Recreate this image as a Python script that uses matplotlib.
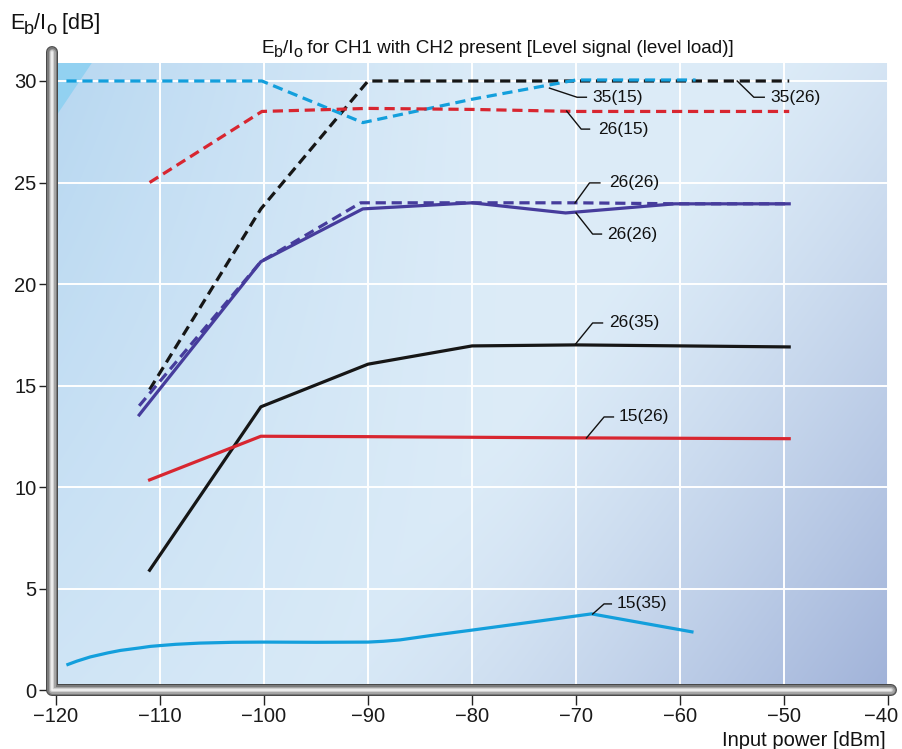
import numpy as np
import matplotlib
matplotlib.use("Agg")
import matplotlib.pyplot as plt
from matplotlib.lines import Line2D
from matplotlib.patches import Polygon
from matplotlib.transforms import ScaledTranslation

plt.rcParams['font.family'] = ['Liberation Sans', 'DejaVu Sans']

# ---------------- data ----------------
x_ticks = [-120, -110, -100, -90, -80, -70, -60, -50, -40]
y_ticks = [0, 5, 10, 15, 20, 25, 30]

cyan_dash_x = [-119, -100.2, -90.5, -80, -70, -58.5]
cyan_dash_y = [30.0, 30.0, 27.95, 29.1, 30.05, 30.05]

black_dash_x = [-111, -100.3, -90, -49.5]
black_dash_y = [14.8, 23.7, 30.0, 30.0]

red_dash_x = [-111, -100.2, -90, -80, -70, -60, -49.5]
red_dash_y = [25.0, 28.5, 28.65, 28.6, 28.5, 28.5, 28.5]

purple_dash_x = [-112, -100.3, -90.7, -80, -70, -60, -49.5]
purple_dash_y = [14.0, 21.1, 24.0, 24.0, 24.0, 23.95, 23.95]

purple_solid_x = [-112, -100.3, -90.5, -80, -71, -60.5, -49.5]
purple_solid_y = [13.55, 21.1, 23.7, 24.0, 23.5, 23.95, 23.95]

black_solid_x = [-111, -100.3, -90, -80, -70, -49.5]
black_solid_y = [5.9, 13.95, 16.05, 16.95, 17.0, 16.9]

red_solid_x = [-111, -100.3, -90, -80, -70, -60, -49.5]
red_solid_y = [10.35, 12.5, 12.48, 12.45, 12.42, 12.4, 12.38]

cyan_solid_x = [-119, -118, -116.7, -115, -113.8, -112, -110.9, -108.5, -106.2, -103, -100,
                -95, -90, -88.5, -86.9, -84, -80, -73.5, -68.5, -58.7]
cyan_solid_y = [1.23, 1.42, 1.63, 1.83, 1.95, 2.07, 2.15, 2.25, 2.31, 2.35, 2.36,
                2.35, 2.36, 2.4, 2.47, 2.68, 2.95, 3.4, 3.75, 2.85]

labels = ["35(15)", "35(26)", "26(15)", "26(26)", "26(26)", "26(35)", "15(26)", "15(35)"]

# ---------------- style ----------------
CYAN = '#139fdc'
RED = '#d82630'
BLACK = '#161616'
PURPLE = '#463c9c'
TXT = '#111111'

W, H = 902, 749
fig = plt.figure(figsize=(W / 100, H / 100), dpi=100)
fig.patch.set_facecolor('white')

x0, x1 = 56, 888
yb, yt = 690, 63
ax = fig.add_axes([x0 / W, 1 - yb / H, (x1 - x0) / W, (yb - yt) / H])
ymax = (yb - yt) / ((690 - 81) / 30.0)
ax.set_xlim(-120, -40)
ax.set_ylim(0, ymax)

# background gradient
nu, nv = 300, 300
u = np.linspace(0, 1, nu)[None, :]
v = np.linspace(1, 0, nv)[:, None]
L = np.array([0.865, 0.925, 0.972])
A = np.array([0.72, 0.845, 0.945])
D = np.array([0.63, 0.70, 0.85])
wd = np.clip((u + (1 - v) * 0.55 - 0.85) / 0.7, 0, 1) ** 1.3
wl = np.clip(1 - u / 0.55, 0, 1) ** 1.2 * (0.35 + 0.65 * v)
wl = wl * (1 - wd)
img = L[None, None, :] * (1 - wl - wd)[:, :, None] + A[None, None, :] * wl[:, :, None] + D[None, None, :] * wd[:, :, None]
ax.imshow(np.clip(img, 0, 1), extent=[-120, -40, 0, ymax], aspect='auto', zorder=0, interpolation='bilinear')
ax.add_patch(Polygon([(0, 1), (0.043, 1), (0, 0.915)], closed=True, transform=ax.transAxes,
                     facecolor='#92d1f1', edgecolor='none', zorder=0.5))

for s in ax.spines.values():
    s.set_visible(False)
ax.set_xticks(x_ticks)
ax.set_yticks(y_ticks)
ax.set_xticklabels([str(t).replace('-', '\u2212') for t in x_ticks])
ax.grid(True, color='white', lw=1.4, zorder=1)
ax.tick_params(axis='both', direction='out', color='#222222', width=1.0, labelsize=14.5,
               labelcolor='#1a1a1a')
ax.tick_params(axis='y', length=12, pad=2)
ax.tick_params(axis='x', length=11, pad=1.5)
# nudge last x tick label so it stays inside
last = ax.get_xticklabels()[-1]
last.set_transform(last.get_transform() + ScaledTranslation(-5 / 72, 0, fig.dpi_scale_trans))

lw = 2.3
ax.plot(black_dash_x, black_dash_y, color=BLACK, lw=lw, dashes=(3.2, 1.8), zorder=3)
ax.plot(cyan_dash_x, cyan_dash_y, color=CYAN, lw=lw, dashes=(3.2, 1.8), zorder=3)
ax.plot(red_dash_x, red_dash_y, color=RED, lw=lw, dashes=(3.2, 1.8), zorder=3)
ax.plot(purple_dash_x, purple_dash_y, color=PURPLE, lw=lw, dashes=(3.2, 1.8), zorder=3)
ax.plot(purple_solid_x, purple_solid_y, color=PURPLE, lw=lw, zorder=3)
ax.plot(black_solid_x, black_solid_y, color=BLACK, lw=lw, zorder=3)
ax.plot(red_solid_x, red_solid_y, color=RED, lw=lw, zorder=3)
ax.plot(cyan_solid_x, cyan_solid_y, color=CYAN, lw=lw, zorder=3, solid_capstyle='butt',
        solid_joinstyle='round')

# leader lines: (anchor on curve, elbow, end of horizontal, text x)
leaders = [
    ((-72.55, 29.65), (-69.9, 29.2), (-69.0, 29.2), -68.4),
    ((-54.5, 30.0), (-52.9, 29.2), (-51.9, 29.2), -51.3),
    ((-70.9, 28.52), (-69.5, 27.63), (-68.7, 27.63), -67.9),
    ((-70.1, 23.99), (-68.7, 24.98), (-67.7, 24.98), -66.8),
    ((-70.0, 23.5), (-68.4, 22.46), (-67.55, 22.46), -67.0),
    ((-70.05, 17.04), (-68.4, 18.08), (-67.45, 18.08), -66.8),
    ((-69.0, 12.41), (-67.3, 13.45), (-66.4, 13.45), -65.9),
    ((-68.4, 3.74), (-67.3, 4.24), (-66.6, 4.24), -66.1),
]
for lab, (p0, p1, p2, tx) in zip(labels, leaders):
    ax.plot([p0[0], p1[0], p2[0]], [p0[1], p1[1], p2[1]], color=TXT, lw=1.0, zorder=4)
    ax.text(tx, p2[1], lab, fontsize=12.5, color=TXT, ha='left', va='center', zorder=5)

# 3D tube axes
def tube(xs, ys):
    tr = fig.transFigure
    xs = [x / W for x in xs]
    ys = [1 - y / H for y in ys]
    for c, w in [('#454545', 8.6), ('#7a7a7a', 7.2), ('#a6a6a6', 5.0), ('#d2d2d2', 2.8), ('#f4f4f4', 1.1)]:
        fig.add_artist(Line2D(xs, ys, transform=tr, color=c, lw=w, solid_capstyle='round',
                              solid_joinstyle='round', zorder=10))

tube([52, 52, 891], [52, 690, 690])

# rich text with large subscripts
renderer = fig.canvas.get_renderer()

def rich(x_px, y_px, pieces, ha='left'):
    # pieces: (text, fontsize, baseline drop in px)
    widths = []
    for t, fs, dy in pieces:
        tt = fig.text(0, 0, t, fontsize=fs)
        bb = tt.get_window_extent(renderer=renderer)
        widths.append(bb.width)
        tt.remove()
    total = sum(widths)
    if ha == 'center':
        cx = x_px - total / 2
    elif ha == 'right':
        cx = x_px - total
    else:
        cx = x_px
    for (t, fs, dy), w in zip(pieces, widths):
        fig.text(cx / W, 1 - (y_px + dy) / H, t, fontsize=fs, color=TXT, ha='left', va='baseline')
        cx += w

TS = 13.6
rich(498, 53, [('E', TS, 0), ('b', TS * 0.85, 4), ('/I', TS, 0), ('o', TS * 0.85, 4),
               (' for CH1 with CH2 present [Level signal (level load)]', TS, 0)], ha='center')
YS = 15.5
rich(10, 29, [('E', YS, 0), ('b', YS * 0.85, 5), ('/I', YS, 0), ('o', YS * 0.85, 5),
              (' [dB]', YS, 0)], ha='left')
fig.text(886 / W, 1 - 746 / H, 'Input power [dBm]', ha='right', va='baseline', fontsize=14.5,
         color=TXT)

fig.savefig('out.png', dpi=100)
